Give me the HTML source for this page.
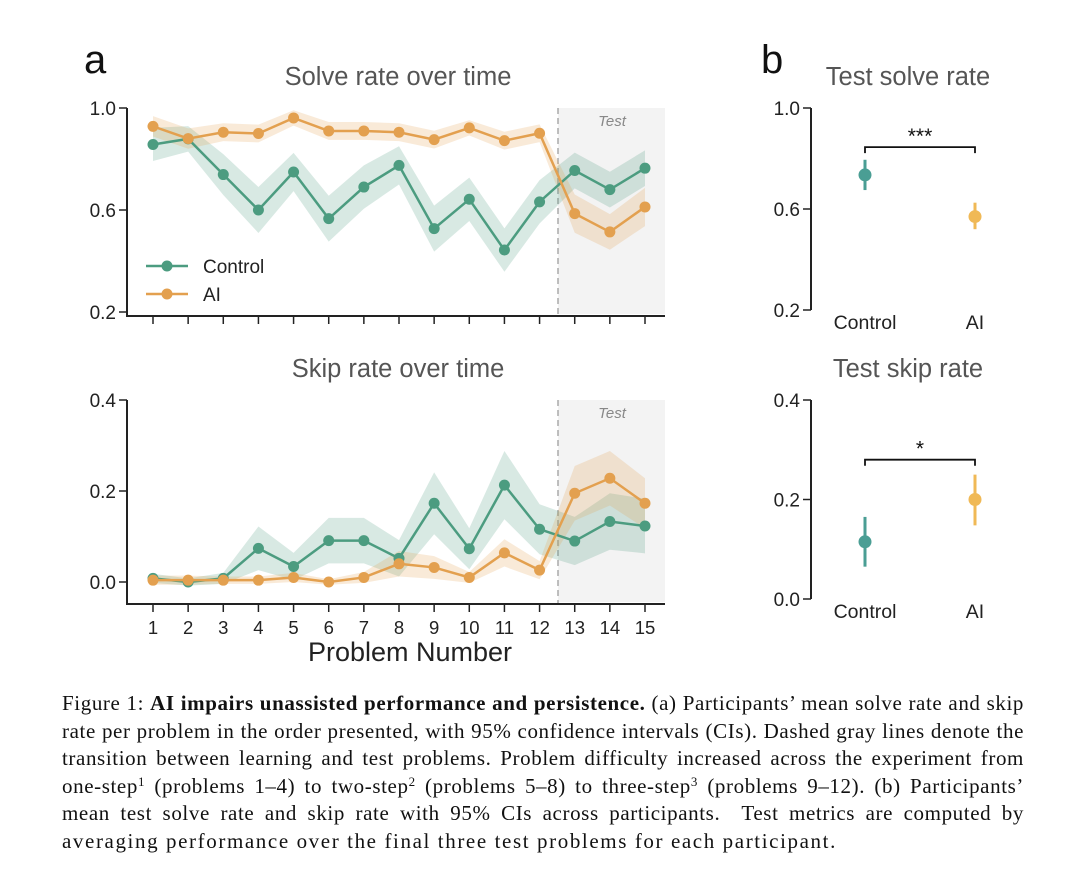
<!DOCTYPE html>
<html><head><meta charset="utf-8"><style>
body{margin:0;background:#fff;width:1080px;height:883px;overflow:hidden}
.cap{position:absolute;left:62px;top:690px;width:962px;font-family:"Liberation Serif",serif;font-size:21px;letter-spacing:0.6px;line-height:27.5px;color:#111}
.cap span{display:block;text-align:justify;text-align-last:justify;white-space:nowrap;height:27.5px}
.cap span.last{text-align-last:left;letter-spacing:1.6px}
.cap sup{font-size:13px;line-height:0;vertical-align:7px}
</style></head><body>
<svg width="1080" height="683" style="position:absolute;left:0;top:0" font-family="Liberation Sans, sans-serif">
<g id="chart"></g>
</svg>
<div class="cap">
<span>Figure 1: <b>AI impairs unassisted performance and persistence.</b> (a) Participants’ mean solve rate and skip</span>
<span>rate per problem in the order presented, with 95% confidence intervals (CIs). Dashed gray lines denote the</span>
<span>transition between learning and test problems. Problem difficulty increased across the experiment from</span>
<span>one-step<sup>1</sup> (problems 1–4) to two-step<sup>2</sup> (problems 5–8) to three-step<sup>3</sup> (problems 9–12). (b) Participants’</span>
<span>mean test solve rate and skip rate with 95% CIs across participants. &nbsp;Test metrics are computed by</span>
<span class="last">averaging performance over the final three test problems for each participant.</span>
</div>
<script>
const problems=[1,2,3,4,5,6,7,8,9,10,11,12,13,14,15];
const solveControl=[0.857,0.879,0.739,0.60,0.749,0.566,0.69,0.775,0.527,0.642,0.443,0.632,0.755,0.68,0.764];
const solveControlCI=[0.065,0.05,0.08,0.09,0.075,0.09,0.085,0.075,0.09,0.085,0.085,0.085,0.07,0.07,0.07];
const solveAI=[0.928,0.88,0.905,0.90,0.961,0.91,0.91,0.905,0.876,0.922,0.872,0.901,0.586,0.514,0.612];
const solveAICI=[0.04,0.04,0.035,0.035,0.03,0.035,0.035,0.035,0.035,0.03,0.035,0.035,0.075,0.07,0.075];
const skipControl=[0.008,0,0.008,0.074,0.034,0.091,0.091,0.052,0.173,0.073,0.213,0.116,0.09,0.133,0.123];
const skipControlCI=[0.01,0.008,0.012,0.048,0.03,0.05,0.05,0.04,0.068,0.045,0.075,0.055,0.053,0.062,0.06];
const skipAI=[0.004,0.004,0.004,0.004,0.01,0,0.01,0.04,0.032,0.01,0.064,0.026,0.195,0.228,0.173];
const skipAICI=[0.01,0.01,0.008,0.008,0.01,0.006,0.012,0.028,0.025,0.012,0.03,0.02,0.06,0.06,0.055];
const groups=["Control","AI"];
const testSolve=[0.735,0.57];const testSolveLo=[0.675,0.52];const testSolveHi=[0.795,0.625];
const testSkip=[0.115,0.2];const testSkipLo=[0.065,0.148];const testSkipHi=[0.165,0.25];
const solveTicks=[0.2,0.6,1.0];const skipTicks=[0.0,0.2,0.4];

const NS="http://www.w3.org/2000/svg";const root=document.getElementById('chart');
function el(t,a,p){const e=document.createElementNS(NS,t);for(const k in a)e.setAttribute(k,a[k]);(p||root).appendChild(e);return e;}
function txt(s,a){const e=el('text',a);e.textContent=s;return e;}
const G='#4c9c80',O='#e3a04f',GB='#4a9e94',OB='#f0b956';
const xA=p=>153+(p-1)*(645-153)/14;

function panelA(yTop,yBot,vTop,vBot,ticks,title,c,cci,a,aci,test){
  const y=v=>yBot+(v-vBot)*(yTop-yBot)/(vTop-vBot);
  const bx=test.bottom;
  let r=el('rect',{x:558,y:yTop,width:107,height:bx-yTop-2,fill:'#f3f3f3'});
  
  let tt=txt('Test',{x:612,y:yTop+18,'font-size':15,'font-style':'italic',fill:'#888','text-anchor':'middle'});
  
  let dl=el('line',{x1:558,x2:558,y1:yTop,y2:bx,stroke:'#aaa','stroke-width':1.5,'stroke-dasharray':'6,4'});
  
  [[c,cci,G,'control'],[a,aci,O,'ai']].forEach(([d,ci,col,nm])=>{
    let pts=problems.map((p,i)=>xA(p)+','+y(d[i]+ci[i])).concat(problems.slice().reverse().map((p,j)=>{const i=14-j;return xA(p)+','+y(Math.max(d[i]-ci[i],-0.01));}));
    let band=el('polygon',{points:pts.join(' '),fill:col,'fill-opacity':0.22});
    
  });
  [[c,G,'control'],[a,O,'ai']].forEach(([d,col,nm])=>{
    let ln=el('polyline',{points:problems.map((p,i)=>xA(p)+','+y(d[i])).join(' '),fill:'none',stroke:col,'stroke-width':2.5});
    
    problems.forEach((p,i)=>{let ci=el('circle',{cx:xA(p),cy:y(d[i]),r:5.5,fill:col});
      });
  });
  let sp=el('line',{x1:127,x2:127,y1:yTop,y2:bx,stroke:'#222','stroke-width':2});
  
  let xa=el('line',{x1:126,x2:665,y1:bx,y2:bx,stroke:'#222','stroke-width':2});
  
  problems.forEach(p=>{el('line',{x1:xA(p),x2:xA(p),y1:bx,y2:bx+8,stroke:'#222','stroke-width':1.5});
    if(test.labels){let l=txt(String(p),{x:xA(p),y:bx+30,'font-size':18.5,'text-anchor':'middle',fill:'#222'});
      }});
  ticks.forEach(t=>{el('line',{x1:119,x2:127,y1:y(t),y2:y(t),stroke:'#222','stroke-width':1.5});
    let l=txt(t.toFixed(1),{x:116,y:y(t)+7,'font-size':19,'text-anchor':'end',fill:'#222'});
    });
  let ti=txt(title,{x:398,y:yTop-23,'font-size':25.5,'text-anchor':'middle',fill:'#555'});
  
}
panelA(108,312,1.0,0.2,solveTicks,'Solve rate over time',solveControl,solveControlCI,solveAI,solveAICI,{bottom:316,labels:false});
panelA(400,582,0.4,0.0,skipTicks,'Skip rate over time',skipControl,skipControlCI,skipAI,skipAICI,{bottom:604,labels:true});
let xt=txt('Problem Number',{x:410,y:661,'font-size':27,'text-anchor':'middle',fill:'#222'});

let la=txt('a',{x:84,y:73,'font-size':40,fill:'#111'});
let lb=txt('b',{x:761,y:73,'font-size':40,fill:'#111'});
[[G,'Control',266],[O,'AI',294]].forEach(([c,n,yy])=>{
  el('line',{x1:146,x2:188,y1:yy,y2:yy,stroke:c,'stroke-width':2.5});el('circle',{cx:167,cy:yy,r:5.5,fill:c});
  let t=txt(n,{x:203,y:yy+7,'font-size':19,fill:'#222'});});

const xB=[865,975];
function panelB(yTop,yBot,vTop,vBot,ticks,title,m,lo,hi,star,bracketV){
  const y=v=>yBot+(v-vBot)*(yTop-yBot)/(vTop-vBot);
  let sp=el('line',{x1:811,x2:811,y1:yTop,y2:yBot,stroke:'#222','stroke-width':2});
  
  ticks.forEach(t=>{el('line',{x1:803,x2:811,y1:y(t),y2:y(t),stroke:'#222','stroke-width':1.5});
    let l=txt(t.toFixed(1),{x:800,y:y(t)+7,'font-size':19,'text-anchor':'end',fill:'#222'});
    });
  groups.forEach((g,i)=>{const c=i?OB:GB;
    let e=el('line',{x1:xB[i],x2:xB[i],y1:y(lo[i]),y2:y(hi[i]),stroke:c,'stroke-width':3});
    
    let d=el('circle',{cx:xB[i],cy:y(m[i]),r:6.5,fill:c});
    let l=txt(g,{x:xB[i],y:yBot+19,'font-size':19.5,'text-anchor':'middle',fill:'#222'});});
  const by=y(bracketV);
  let br=el('path',{d:`M865 ${by+6}V${by}H975V${by+6}`,fill:'none',stroke:'#111','stroke-width':1.8});
  
  let st=txt(star,{x:920,y:by-4,'font-size':21,'text-anchor':'middle',fill:'#111'});
  
  let ti=txt(title,{x:908,y:yTop-23,'font-size':25.5,'text-anchor':'middle',fill:'#555'});
  
}
panelB(108,310,1.0,0.2,solveTicks,'Test solve rate',testSolve,testSolveLo,testSolveHi,'***',0.845);
panelB(400,599,0.4,0.0,skipTicks,'Test skip rate',testSkip,testSkipLo,testSkipHi,'*',0.28);
</script>
</body></html>
